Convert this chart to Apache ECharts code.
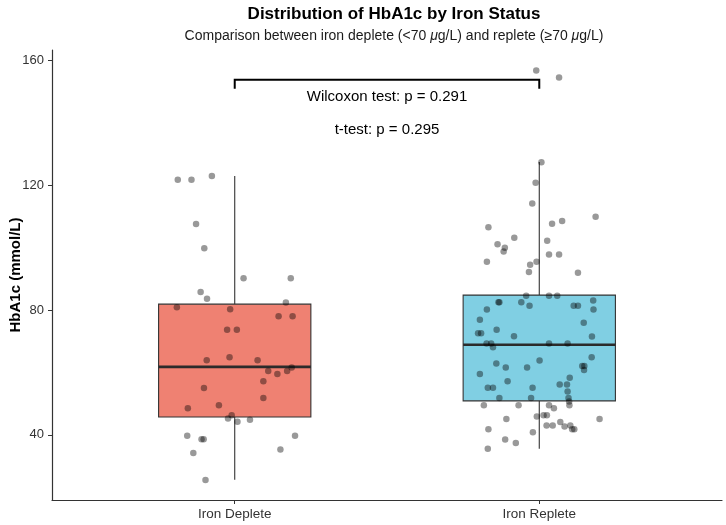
<!DOCTYPE html>
<html>
<head>
<meta charset="utf-8">
<script src="https://cdn.jsdelivr.net/npm/echarts@6/dist/echarts.min.js"></script>
<style>
  html, body { margin: 0; padding: 0; background: #fff; }
  #chart { width: 726px; height: 525px; }
</style>
</head>
<body>
<div id="chart"></div>
<script>
// categories and box stats [low whisker, q1, median, q3, high whisker]
const categories = ['Iron Deplete', 'Iron Replete']
const boxStats = [
  [25.6, 45.7, 61.8, 81.9, 123.0],
  [35.5, 50.9, 68.9, 84.8, 127.5]
]
const boxColors = ['#EF8172', '#80CFE3']

// jittered points: horizontal offset from category and HbA1c value
const depleteX = [-0.187, -0.142, -0.075, -0.127, -0.100, 0.029, 0.184, -0.112, -0.091, 0.168,
  -0.190, -0.015, 0.144, 0.190, -0.025, 0.007, -0.092, -0.017, 0.075, 0.187,
  0.110, 0.140, 0.172, 0.094, -0.101, 0.094, -0.052, -0.154, -0.010, -0.022,
  0.009, 0.050, -0.156, -0.109, -0.102, 0.198, -0.136, 0.150, -0.096]
const depleteY = [121.8, 121.8, 123.0, 107.6, 99.8, 90.2, 90.2, 85.8, 83.6, 82.4,
  80.9, 80.3, 78.0, 78.0, 73.7, 73.7, 63.9, 64.9, 63.9, 61.6,
  60.5, 59.5, 60.5, 57.2, 55.0, 51.8, 49.5, 48.5, 46.3, 45.2,
  44.2, 44.8, 39.7, 38.6, 38.6, 39.7, 34.2, 35.3, 25.5]

const repleteX = [-0.010, 0.065, 0.007, -0.012, -0.023, 0.185, -0.167, 0.042, 0.075, -0.082,
  -0.137, -0.113, -0.117, 0.026, 0.032, 0.065, -0.172, -0.030, -0.009, -0.034,
  0.127, -0.043, 0.032, 0.059, -0.134, -0.131, -0.059, -0.032, 0.113, 0.127,
  0.177, -0.172, 0.178, -0.195, 0.146, -0.140, -0.201, -0.191, -0.083, 0.173,
  -0.173, -0.158, -0.152, 0.032, 0.093, 0.001, 0.172, -0.141, -0.110, -0.040,
  0.141, 0.148, 0.147, -0.195, 0.100, -0.104, -0.169, -0.152, -0.022, 0.067,
  0.091, 0.093, -0.131, -0.027, 0.096, 0.098, 0.099, -0.182, -0.068, 0.032,
  0.048, -0.008, 0.014, 0.025, -0.108, 0.198, -0.167, 0.024, 0.044, 0.069,
  0.083, 0.102, 0.108, 0.115, -0.021, -0.112, -0.077, -0.169]
const repleteY = [156.8, 154.6, 127.4, 120.8, 114.2, 109.9, 106.6, 107.7, 108.6, 103.2,
  101.1, 100.0, 98.8, 102.2, 97.8, 97.8, 95.5, 94.5, 95.5, 92.2,
  92.0, 84.6, 84.6, 84.6, 82.5, 82.5, 82.5, 81.4, 81.4, 81.4,
  83.1, 80.2, 80.2, 76.9, 75.9, 73.7, 72.6, 72.6, 71.6, 71.5,
  69.3, 69.3, 68.1, 69.3, 69.3, 63.8, 64.9, 62.9, 61.6, 61.6,
  62.1, 62.1, 60.8, 59.5, 58.3, 57.2, 55.1, 55.1, 55.1, 56.1,
  56.1, 53.9, 51.8, 51.8, 51.8, 50.7, 49.5, 49.5, 49.5, 49.5,
  48.5, 45.9, 46.3, 46.3, 45.1, 45.1, 41.8, 43.0, 43.0, 44.1,
  42.7, 43.0, 41.8, 41.8, 40.8, 38.5, 37.4, 35.5]

const yTicks = [40, 80, 120, 160]

// significance annotation
const bracketY = 153.9
const bracketTipY = 151.0
const annotations = [
  { text: 'Wilcoxon test: p = 0.291', y: 148.5 },
  { text: 't-test: p = 0.295', y: 137.9 }
]

const FONT = '"Liberation Sans", Arial, sans-serif'

const chart = echarts.init(document.getElementById('chart'))

const boxData = boxStats.map((s, i) => [i + 1].concat(s))

chart.setOption({
  animation: false,
  title: {
    text: 'Distribution of HbA1c by Iron Status',
    subtext: 'Comparison between iron deplete (<70 {i|\u03BC}g/L) and replete (\u226570 {i|\u03BC}g/L)',
    left: 389,
    textAlign: 'center',
    top: 1,
    itemGap: 6,
    textStyle: { fontFamily: FONT, fontSize: 17, fontWeight: 'bold', color: '#000' },
    subtextStyle: {
      fontFamily: FONT, fontSize: 14, color: '#1a1a1a',
      rich: { i: { fontFamily: FONT, fontSize: 14, fontStyle: 'italic', color: '#1a1a1a' } }
    }
  },
  grid: { left: 52, right: 4, top: 50, bottom: 25, containLabel: false, outerBoundsMode: 'none' },
  xAxis: {
    type: 'value',
    min: 0.4,
    max: 2.6,
    splitLine: { show: false },
    axisLine: { lineStyle: { color: '#333', width: 1.2 } },
    axisTick: { customValues: [1, 2], length: 4, lineStyle: { color: '#333' } },
    axisLabel: {
      customValues: [1, 2],
      formatter: v => categories[Math.round(v) - 1],
      fontFamily: FONT, fontSize: 13.5, color: '#333', margin: 7
    }
  },
  yAxis: {
    type: 'value',
    min: 19.1,
    max: 163.4,
    name: 'HbA1c (mmol/L)',
    nameLocation: 'middle',
    nameRotate: 90,
    nameGap: 29,
    nameMoveOverlap: false,
    nameTextStyle: { fontFamily: FONT, fontSize: 15, fontWeight: 'bold', color: '#000' },
    splitLine: { show: false },
    axisLine: { show: true, lineStyle: { color: '#333', width: 1.2 } },
    axisTick: { show: true, customValues: yTicks, length: 4, lineStyle: { color: '#333' } },
    axisLabel: { customValues: yTicks, fontFamily: FONT, fontSize: 13, color: '#333', margin: 8 }
  },
  series: [
    {
      type: 'custom',
      z: 1,
      data: boxData,
      renderItem(params, api) {
        const x = api.value(0)
        const lo = api.coord([x, api.value(1)])
        const q1 = api.coord([x, api.value(2)])
        const med = api.value(3)
        const q3 = api.coord([x, api.value(4)])
        const hi = api.coord([x, api.value(5)])
        const left = api.coord([x - 0.25, med])[0]
        const right = api.coord([x + 0.25, med])[0]
        const my = api.coord([x, med])[1]
        const stroke = '#333'
        return {
          type: 'group',
          children: [
            { type: 'line', shape: { x1: lo[0], y1: lo[1], x2: q1[0], y2: q1[1] }, style: { stroke, lineWidth: 1.1 } },
            { type: 'line', shape: { x1: q3[0], y1: q3[1], x2: hi[0], y2: hi[1] }, style: { stroke, lineWidth: 1.1 } },
            {
              type: 'rect',
              shape: { x: left, y: q3[1], width: right - left, height: q1[1] - q3[1] },
              style: { fill: boxColors[params.dataIndex], stroke, lineWidth: 1.1 }
            },
            { type: 'line', shape: { x1: left, y1: my, x2: right, y2: my }, style: { stroke: '#2b2b2b', lineWidth: 2.6 } }
          ]
        }
      }
    },
    {
      type: 'scatter',
      z: 3,
      symbolSize: 6.5,
      itemStyle: { color: 'rgba(0,0,0,0.5)' },
      data: depleteY.map((y, i) => [1 + depleteX[i], y])
    },
    {
      type: 'scatter',
      z: 3,
      symbolSize: 6.5,
      itemStyle: { color: 'rgba(0,0,0,0.5)' },
      data: repleteY.map((y, i) => [2 + repleteX[i], y])
    },
    {
      type: 'custom',
      z: 4,
      data: [[1, 2, bracketY, bracketTipY]],
      renderItem(params, api) {
        const a = api.coord([api.value(0), api.value(3)])
        const b = api.coord([api.value(0), api.value(2)])
        const c = api.coord([api.value(1), api.value(2)])
        const d = api.coord([api.value(1), api.value(3)])
        return {
          type: 'polyline',
          shape: { points: [a, b, c, d] },
          style: { stroke: '#000', lineWidth: 2, fill: null }
        }
      }
    },
    {
      type: 'custom',
      z: 4,
      data: annotations.map(a => [1.5, a.y]),
      renderItem(params, api) {
        const p = api.coord([api.value(0), api.value(1)])
        return {
          type: 'text',
          x: p[0],
          y: p[1],
          style: {
            text: annotations[params.dataIndex].text,
            align: 'center',
            verticalAlign: 'middle',
            fontFamily: FONT,
            fontSize: 15,
            fill: '#000'
          }
        }
      }
    }
  ]
})
</script>
</body>
</html>
